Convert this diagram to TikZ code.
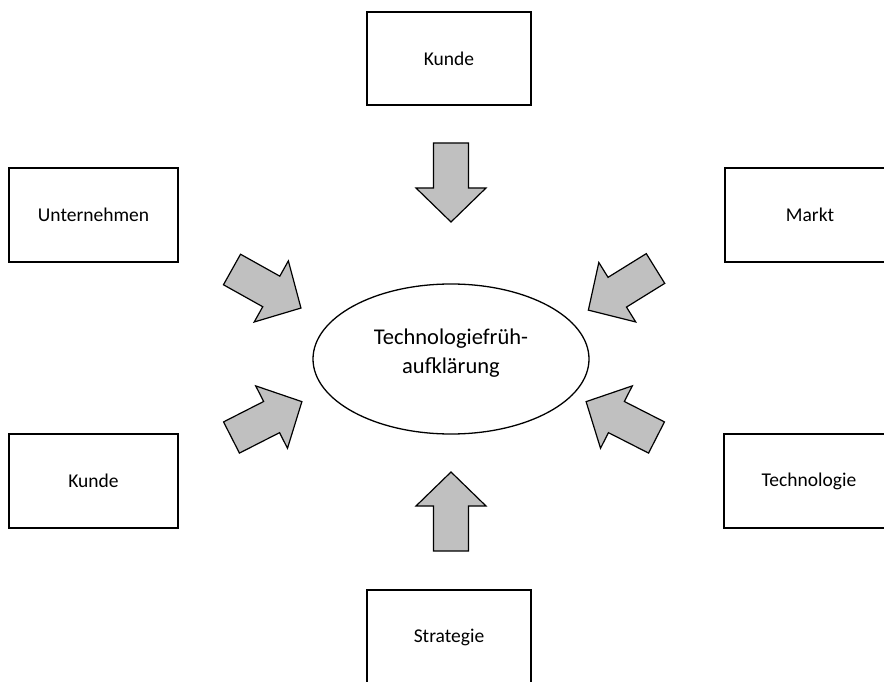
\documentclass[tikz,border=0pt]{standalone}
\usepackage{fontspec}
\setmainfont{Carlito}
\usetikzlibrary{shapes.geometric}
\definecolor{arrowfill}{RGB}{192,192,192}
\tikzset{
  infobox/.style={draw=black, line width=1.5pt, fill=white, inner sep=0pt,
    font=\fontsize{19.5}{23}\selectfont},
  core/.style={draw=black, line width=1.3pt, ellipse, inner sep=0pt,
    minimum width=276pt, minimum height=150pt},
  corelabel/.style={align=center, inner sep=0pt,
    font=\fontsize{22.5}{28.5}\selectfont},
  pics/fatarrow/.style={code={
    \draw[line width=1.2pt, fill=arrowfill, line join=miter]
      (0,17.5) -- (45,17.5) -- (45,35) -- (79,0) -- (45,-35) -- (45,-17.5)
      -- (0,-17.5) -- cycle;
  }}
}
\begin{document}
\begin{tikzpicture}[x=1pt,y=-1pt]
\useasboundingbox (0,0) rectangle (884,682);
\clip (0,0) rectangle (884,682);

% central topic
\node[core] (center) at (451,359) {};
\node[corelabel] (centerLabel) at (451,353) {Technologiefrüh-\\aufklärung};

% surrounding influence boxes
\node[infobox, minimum width=164pt, minimum height=93pt] (kundeTop) at (449,58.5) {Kunde};
\node[infobox, minimum width=169pt, minimum height=94pt] (unternehmen) at (93.5,215) {Unternehmen};
\node[infobox, minimum width=169pt, minimum height=94pt] (kundeLeft) at (93.5,481) {Kunde};
\node[infobox, minimum width=170pt, minimum height=94pt] (markt) at (810,215) {Markt};
\node[infobox, minimum width=170pt, minimum height=94pt] (technologie) at (809,481) {Technologie};
\node[infobox, minimum width=164pt, minimum height=94pt] (strategie) at (449,637) {Strategie};

% block arrows pointing towards the centre
\pic[rotate=-90] (arrTop) at (451,143) {fatarrow};
\pic[rotate=90] (arrBottom) at (451,551) {fatarrow};
\pic[rotate=-29.2] (arrUL) at (232,269.5) {fatarrow};
\pic[rotate=27] (arrLL) at (231.5,437.5) {fatarrow};
\pic[rotate=-148.2] (arrUR) at (655.5,268.5) {fatarrow};
\pic[rotate=153] (arrLR) at (656.5,437.5) {fatarrow};
\end{tikzpicture}
\end{document}
